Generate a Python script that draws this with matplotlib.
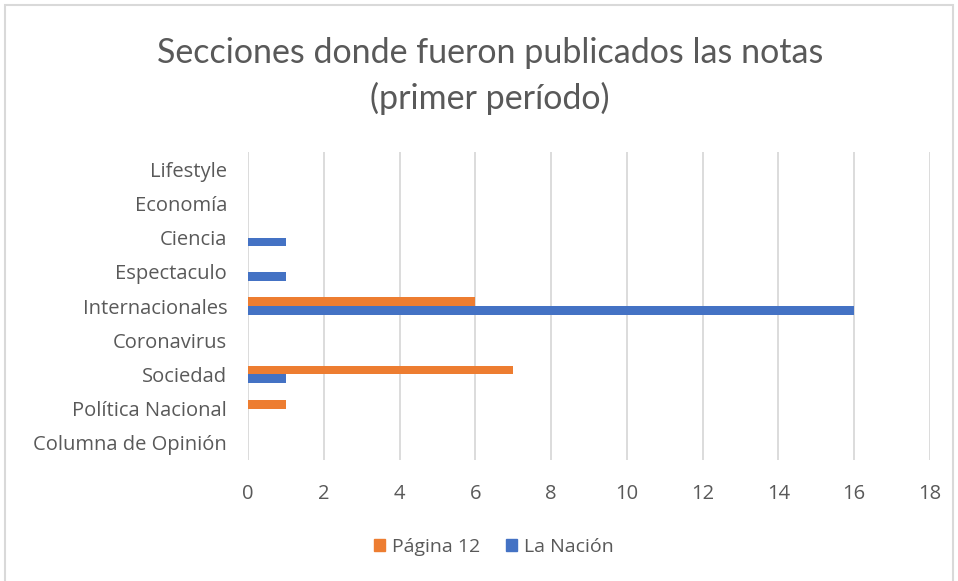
import matplotlib
matplotlib.use("Agg")
import matplotlib.pyplot as plt
import numpy as np
from matplotlib.patches import Rectangle, Patch

categories = ["Columna de Opinión", "Política Nacional", "Sociedad", "Coronavirus",
              "Internacionales", "Espectaculo", "Ciencia", "Economía", "Lifestyle"]
pagina12 = [0, 1, 7, 0, 6, 0, 0, 0, 0]
lanacion = [0, 0, 1, 0, 16, 1, 1, 0, 0]
xticks = [0, 2, 4, 6, 8, 10, 12, 14, 16, 18]
title = "Secciones donde fueron publicados las notas\n(primer período)"

TXT = "#595959"
ORANGE = "#ED7D31"
BLUE = "#4472C4"
plt.rcParams['font.family'] = ['Open Sans', 'DejaVu Sans']

fig = plt.figure(figsize=(9.58, 5.81), dpi=100)
fig.patch.set_facecolor("white")
fig.patches.append(Rectangle((5/958, -0.01), 948/958, 1 - 5/581 + 0.01, transform=fig.transFigure,
                             fill=False, edgecolor="#D9D9D9", linewidth=1.5))

ax = fig.add_axes([248/958, 1 - 460/581, (930 - 248)/958, (460 - 152)/581])
y = np.arange(len(categories))
h = 0.26
ax.barh(y + h/2, pagina12, height=h, color=ORANGE, label="Página 12", zorder=3)
ax.barh(y - h/2, lanacion, height=h, color=BLUE, label="La Nación", zorder=3)

ax.set_xlim(0, 18)
ax.set_ylim(-0.5, len(categories) - 0.5)
ax.set_xticks(xticks)
ax.set_xticklabels([str(t) for t in xticks])
ax.set_yticks(y)
ax.set_yticklabels(categories)
ax.grid(axis="x", color="#D9D9D9", linewidth=1.3, zorder=0)
for s in ax.spines.values():
    s.set_visible(False)
ax.tick_params(axis="both", length=0, labelsize=14.5, colors=TXT, labelcolor=TXT)
ax.tick_params(axis="x", pad=17)
ax.tick_params(axis="y", pad=15)

fig.text(490/958, 1 - 76/581, title, ha="center", va="center", fontsize=24.5,
         color=TXT, linespacing=1.5, family=['Lato', 'DejaVu Sans'])

handles = [Patch(color=ORANGE, label="Página 12"), Patch(color=BLUE, label="La Nación")]
fig.legend(handles=handles, loc="center", bbox_to_anchor=(494/958, 1 - 547/581), ncol=2,
           frameon=False, fontsize=14, labelcolor=TXT, handlelength=0.55, handleheight=0.55,
           handletextpad=0.4, columnspacing=1.3)

fig.savefig("out.png", dpi=100)
